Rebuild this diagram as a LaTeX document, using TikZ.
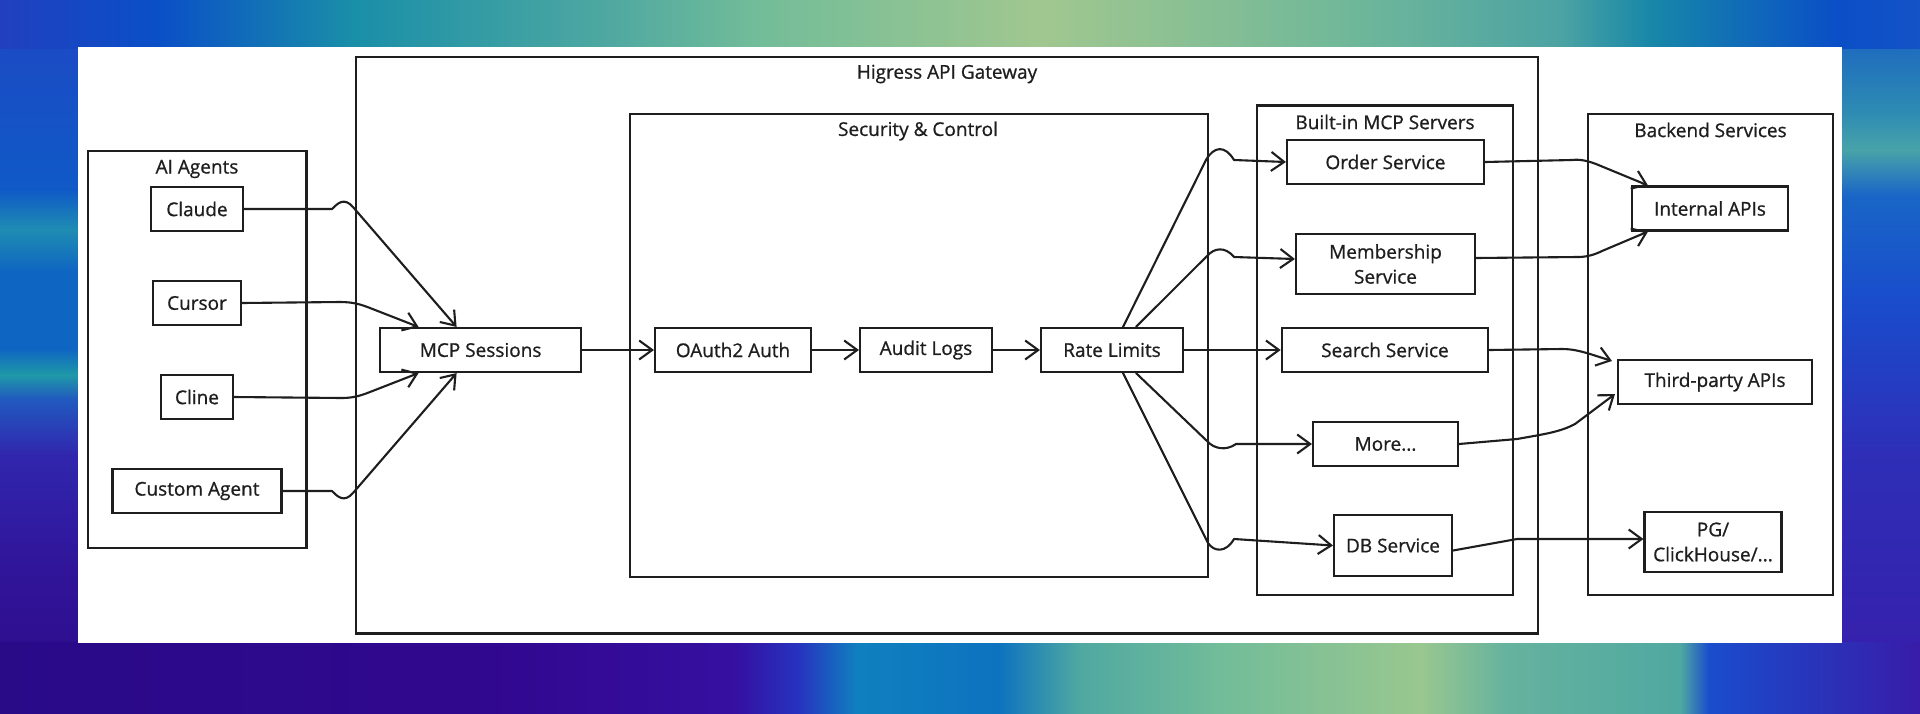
\documentclass[tikz,border=0pt]{standalone}
\usepackage{fontspec}
\setmainfont{Open Sans}[FakeBold=0.8]
\usetikzlibrary{arrows.meta,calc}
\definecolor{ink}{HTML}{1E1E1E}
\pgfdeclarehorizontalshading{topband}{100bp}{rgb(0bp)=(0.13,0.25,0.75); rgb(25bp)=(0.13,0.25,0.75); rgb(29.1bp)=(0.04,0.31,0.78); rgb(34.2bp)=(0.10,0.56,0.66); rgb(40.9bp)=(0.31,0.66,0.63); rgb(44.8bp)=(0.45,0.74,0.60); rgb(52.1bp)=(0.63,0.78,0.56); rgb(60.1bp)=(0.44,0.72,0.60); rgb(65.6bp)=(0.30,0.64,0.64); rgb(68bp)=(0.09,0.53,0.66); rgb(72.8bp)=(0.04,0.31,0.78); rgb(75bp)=(0.08,0.32,0.78); rgb(100bp)=(0.08,0.32,0.78)}
\pgfdeclarehorizontalshading{botband}{100bp}{rgb(0bp)=(0.16,0.04,0.53); rgb(25bp)=(0.16,0.04,0.53); rgb(38bp)=(0.19,0.03,0.56); rgb(44.1bp)=(0.21,0.06,0.63); rgb(45.8bp)=(0.15,0.20,0.75); rgb(47.3bp)=(0.06,0.50,0.75); rgb(51bp)=(0.05,0.45,0.75); rgb(53.1bp)=(0.31,0.66,0.63); rgb(56.9bp)=(0.45,0.74,0.60); rgb(62bp)=(0.60,0.78,0.56); rgb(64.2bp)=(0.40,0.70,0.62); rgb(68.75bp)=(0.31,0.66,0.63); rgb(69.5bp)=(0.10,0.30,0.80); rgb(75bp)=(0.22,0.11,0.66); rgb(100bp)=(0.22,0.11,0.66)}
\pgfdeclareverticalshading{leftband}{100bp}{rgb(0bp)=(0.17,0.04,0.53); rgb(25bp)=(0.17,0.04,0.53); rgb(35bp)=(0.19,0.08,0.60); rgb(43.1bp)=(0.19,0.15,0.68); rgb(47bp)=(0.13,0.35,0.75); rgb(48.7bp)=(0.12,0.60,0.66); rgb(50.5bp)=(0.06,0.40,0.76); rgb(56bp)=(0.06,0.40,0.76); rgb(58.9bp)=(0.12,0.55,0.70); rgb(61.7bp)=(0.06,0.35,0.78); rgb(75bp)=(0.12,0.28,0.77); rgb(100bp)=(0.12,0.28,0.77)}
\pgfdeclareverticalshading{rightband}{100bp}{rgb(0bp)=(0.22,0.11,0.66); rgb(25bp)=(0.22,0.11,0.66); rgb(43.1bp)=(0.18,0.18,0.72); rgb(54bp)=(0.10,0.30,0.80); rgb(61.3bp)=(0.10,0.40,0.78); rgb(64.5bp)=(0.28,0.64,0.66); rgb(67bp)=(0.18,0.55,0.70); rgb(75bp)=(0.08,0.34,0.78); rgb(100bp)=(0.08,0.34,0.78)}
\tikzset{
  box/.style={draw=ink, line width=2.1pt, fill=white, inner sep=0pt, text=ink,
    font=\fontsize{19}{25}\selectfont, align=center, minimum height=44pt},
  frame/.style={draw=ink, line width=2.1pt},
  lbl/.style={text=ink, inner sep=0pt, font=\fontsize{19}{25}\selectfont},
  conn/.style={draw=ink, line width=2.1pt, line cap=round, line join=round,
    -{Straight Barb[length=13pt,width=19pt]}}
}
\begin{document}
\begin{tikzpicture}[x=1pt,y=-1pt]
\useasboundingbox (0,0) rectangle (1920,713);
% background
\shade[shading=leftband] (0,0) rectangle (79,713);
\shade[shading=rightband] (1841,0) rectangle (1920,713);
\shade[shading=topband] (0,0) rectangle (1920,48);
\shade[shading=botband] (0,642) rectangle (1920,713);
\fill[white] (78,47) rectangle (1842,643);

% frames
\draw[frame] (87.8,151.4) rectangle (306.5,548);
\draw[frame] (356,57) rectangle (1538,633.5);
\draw[frame] (630.4,113.7) rectangle (1208,576.6);
\draw[frame] (1257,105.5) rectangle (1513,595);
\draw[frame] (1588,113.7) rectangle (1833,595);

% frame labels
\node[lbl] (agentsLbl) at (197,169) {AI Agents};
\node[lbl] (gwLbl) at (947,74) {Higress API Gateway};
\node[lbl] (secLbl) at (918,131) {Security \& Control};
\node[lbl] (mcpLbl) at (1385,122) {Built-in MCP Servers};
\node[lbl] (beLbl) at (1710.5,130) {Backend Services};

% nodes
\node[box, minimum width=92pt] (claude) at (197,209) {Claude};
\node[box, minimum width=87.5pt] (cursor) at (197,303) {Cursor};
\node[box, minimum width=72pt] (cline) at (197,397) {Cline};
\node[box, minimum width=169pt] (custom) at (197,491) {Custom Agent};

\node[box, minimum width=201pt] (mcp) at (480.6,350) {MCP Sessions};
\node[box, minimum width=156pt] (oauth) at (733,350) {OAuth2 Auth};
\node[box, minimum width=132pt] (audit) at (926,350) {Audit Logs};
\node[box, minimum width=142pt] (rate) at (1112,350) {Rate Limits};

\node[box, minimum width=197pt] (order) at (1385.5,162) {Order Service};
\node[box, minimum width=179pt, minimum height=60pt] (member) at (1385.5,264) {Membership\\Service};
\node[box, minimum width=206.5pt] (search) at (1385,350) {Search Service};
\node[box, minimum width=145pt] (more) at (1385.5,444) {More...};
\node[box, minimum width=118pt, minimum height=61pt] (db) at (1393,545.5) {DB Service};

\node[box, minimum width=155.5pt] (internal) at (1710,208.5) {Internal APIs};
\node[box, minimum width=194pt] (third) at (1715,382) {Third-party APIs};
\node[box, minimum width=137pt, minimum height=59.5pt] (pg) at (1713,542) {PG/\\ClickHouse/...};

% agents -> MCP sessions
\draw[conn] (claude.east) -- (332,209) .. controls (338,203) and (344,197) .. (353,207) -- ($(mcp.north)+(-24,0)$);
\draw[conn] (cursor.east) -- (340,302) .. controls (352,302) and (360,304) .. (370,308) -- ($(mcp.north)+(-62,0)$);
\draw[conn] (cline.east) -- (342,398) .. controls (352,398) and (360,396) .. (370,392) -- ($(mcp.south)+(-62,0)$);
\draw[conn] (custom.east) -- (332,491) .. controls (338,497) and (344,503) .. (353,493) -- ($(mcp.south)+(-24,0)$);

% pipeline
\draw[conn] (mcp.east) -- (oauth.west);
\draw[conn] (oauth.east) -- (audit.west);
\draw[conn] (audit.east) -- (rate.west);

% rate limits -> MCP servers
\draw[conn] ($(rate.north)+(11,0)$) -- (1206,160) .. controls (1214,146) and (1225,145) .. (1234,160) -- (order.west);
\draw[conn] ($(rate.north)+(24,0)$) -- (1207,256) .. controls (1214,248) and (1225,246) .. (1234,257) -- ($(member.west)+(0,-5)$);
\draw[conn] (rate.east) -- (search.west);
\draw[conn] ($(rate.south)+(24,0)$) -- (1207,441) .. controls (1214,449) and (1226,451) .. (1236,444) -- (more.west);
\draw[conn] ($(rate.south)+(11,0)$) -- (1208,543) .. controls (1214,552) and (1226,553) .. (1234,539) -- (db.west);

% MCP servers -> backend
\draw[conn] (order.east) -- (1572,160) .. controls (1580,159) and (1588,161) .. (1596,164) -- ($(internal.north)+(-62,0)$);
\draw[conn] ($(member.east)+(0,-6)$) -- (1578,257) .. controls (1586,257) and (1594,255) .. (1602,251) -- ($(internal.south)+(-62,0)$);
\draw[conn] (search.east) -- (1562,349) .. controls (1572,349) and (1580,351) .. (1590,354) -- ($(third.north west)+(-5,2)$);
\draw[conn] (more.east) -- (1517,439) .. controls (1545,434) and (1560,432) .. (1575,424) -- ($(third.south west)+(-2,-11)$);
\draw[conn] ($(db.east)+(0,5)$) -- (1517,539) -- ($(pg.west)+(0,-3)$);
\end{tikzpicture}
\end{document}
